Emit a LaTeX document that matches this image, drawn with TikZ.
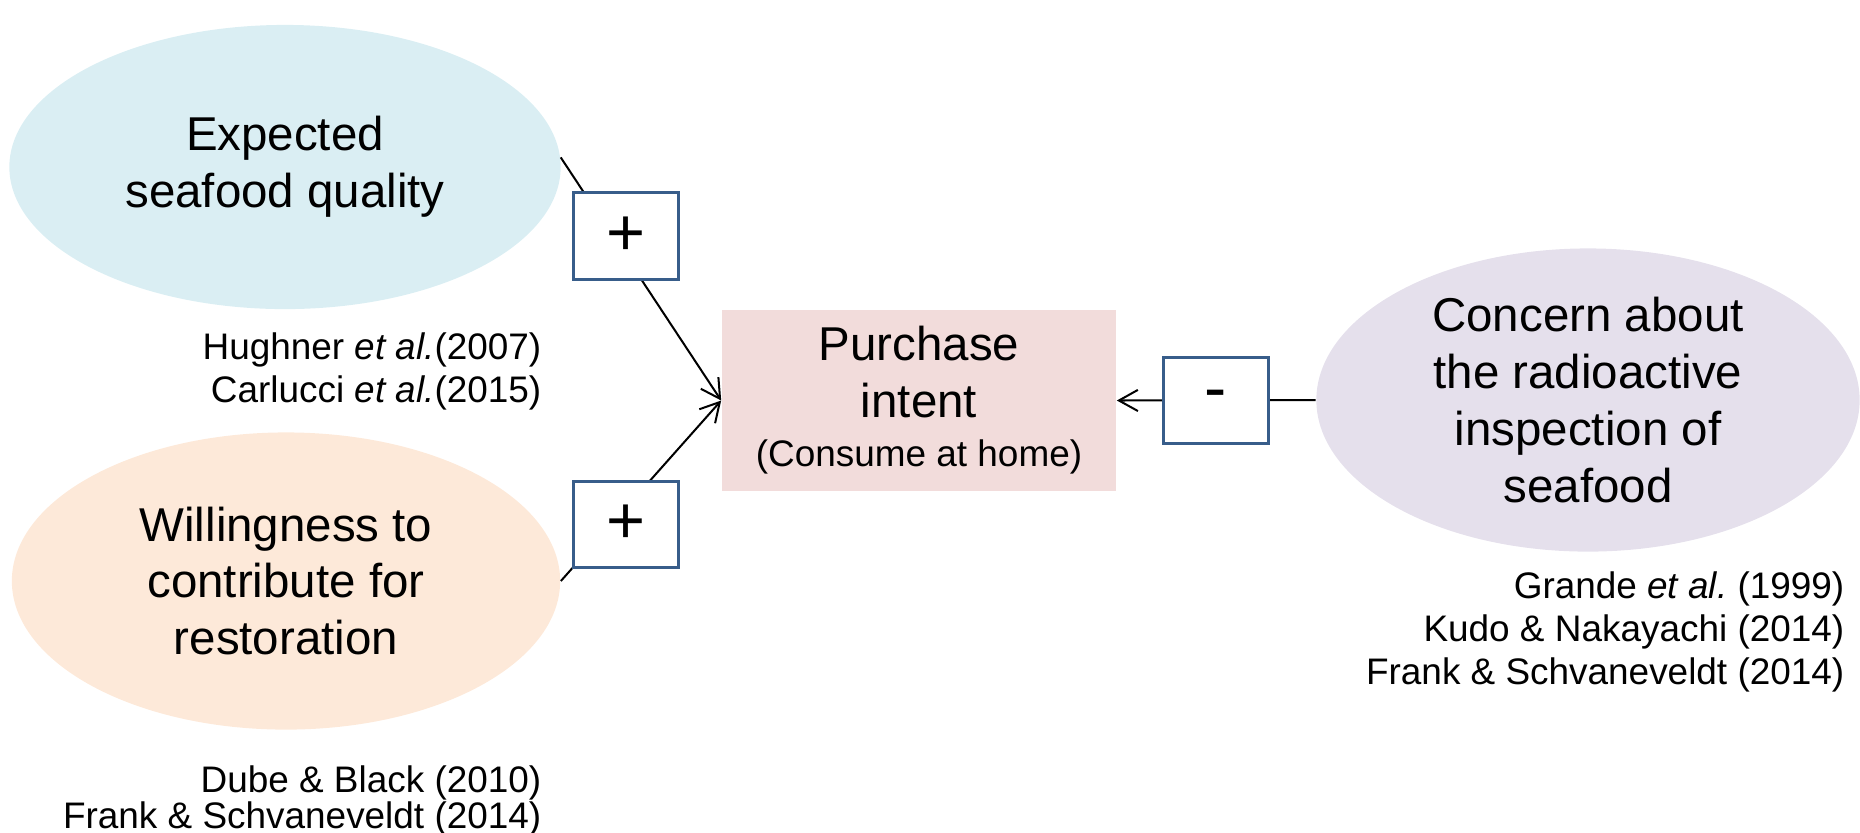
\documentclass[tikz,border=0pt]{standalone}
\usepackage{fontspec}
\setmainfont{Liberation Sans}
\usepackage{xcolor}
\usepackage{tikz}
\usetikzlibrary{shapes.geometric, arrows.meta}
\definecolor{qualblue}{RGB}{218,238,243}
\definecolor{restorange}{RGB}{253,233,217}
\definecolor{concernpurple}{RGB}{229,224,236}
\definecolor{intentpink}{RGB}{242,220,219}
\definecolor{signblue}{RGB}{56,93,138}
\frenchspacing

\begin{document}
\begin{tikzpicture}[
    x=0.01cm, y=-0.01cm,
    factor/.style={ellipse, inner sep=0pt, align=center,
                   font=\fontsize{13.5}{16.2}\selectfont},
    intent/.style={rectangle, fill=intentpink, inner sep=0pt,
                   minimum width=3.94cm, minimum height=1.81cm,
                   align=center, font=\fontsize{13.5}{16.2}\selectfont},
    sign/.style={draw=signblue, line width=0.85pt, fill=white,
                 minimum width=1.05cm, minimum height=0.86cm, inner sep=0pt,
                 font=\fontsize{19}{21}\selectfont},
    cite/.style={align=right, inner sep=0pt,
                 font=\fontsize{10.5}{12.3}\selectfont},
    arr/.style={-{Straight Barb[length=5.4pt, width=6pt]}, line width=0.57pt},
]
\useasboundingbox (0,0) rectangle (1860,832);

% Factors
\node[factor, fill=qualblue, minimum width=5.51cm, minimum height=2.84cm]
     (quality) at (285,167) {Expected\\seafood quality};
\node[factor, fill=restorange, minimum width=5.48cm, minimum height=2.97cm]
     (restore) at (286,581) {Willingness to\\contribute for\\restoration};
\node[factor, fill=concernpurple, minimum width=5.43cm, minimum height=3.03cm]
     (concern) at (1588,400) {Concern about\\the radioactive\\inspection of\\seafood};

% Outcome
\node[intent] (purchase) at (919,400.5)
     {Purchase\\intent\\[-2.3pt]{\fontsize{10.5}{12.3}\selectfont(Consume at home)}};

% References
\node[cite, anchor=north east] (citequality) at (542,332)
     {Hughner \textit{et al.}(2007)\\Carlucci \textit{et al.}(2015)};
\node[cite, anchor=north east, font=\fontsize{10.5}{10.3}\selectfont]
     (citerestore) at (542,765)
     {Dube \& Black (2010)\\Frank \& Schvaneveldt (2014)};
\node[cite, anchor=north east] (citeconcern) at (1845,571)
     {Grande \textit{et al.} (1999)\\Kudo \& Nakayachi (2014)\\Frank \& Schvaneveldt (2014)};

% Paths
\draw[arr] (quality.2) -- (purchase.west);
\draw[arr] (restore.east) -- (purchase.west);
\draw[arr] (concern.west) -- (purchase.east);

% Signs on top of the paths
\node[sign] (signquality) at (626,236) {+};
\node[sign] (signrestore) at (626,524.5) {+};
\node[sign] (signconcern) at (1216,400.5) {-};

\end{tikzpicture}
\end{document}
